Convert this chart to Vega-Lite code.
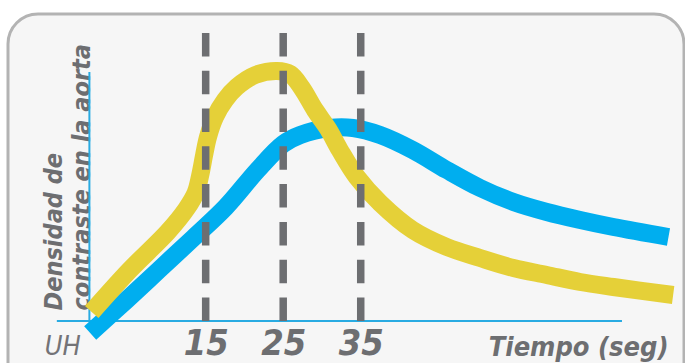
{
  "$schema": "https://vega.github.io/schema/vega-lite/v6.json",
  "autosize": "none",
  "width": 676,
  "height": 389,
  "padding": {"left": 8, "top": 14, "right": 1, "bottom": -40},
  "background": "#ffffff",
  "view": {"fill": "#f6f6f6", "stroke": "#b3b3b3", "strokeWidth": 3, "cornerRadius": 30},
  "datasets": {
    "curvas": [
      {"t": 0.3, "v": 9, "serie": "amarilla"},
      {"t": 5.2, "v": 51, "serie": "amarilla"},
      {"t": 10.1, "v": 89, "serie": "amarilla"},
      {"t": 12.5, "v": 112, "serie": "amarilla"},
      {"t": 13.7, "v": 128, "serie": "amarilla"},
      {"t": 14.3, "v": 146, "serie": "amarilla"},
      {"t": 14.8, "v": 166, "serie": "amarilla"},
      {"t": 15.3, "v": 184, "serie": "amarilla"},
      {"t": 16.2, "v": 204, "serie": "amarilla"},
      {"t": 17.5, "v": 221, "serie": "amarilla"},
      {"t": 19.0, "v": 234, "serie": "amarilla"},
      {"t": 21.4, "v": 246, "serie": "amarilla"},
      {"t": 24.2, "v": 250, "serie": "amarilla"},
      {"t": 25.9, "v": 247, "serie": "amarilla"},
      {"t": 27.4, "v": 233, "serie": "amarilla"},
      {"t": 29.1, "v": 211, "serie": "amarilla"},
      {"t": 30.8, "v": 192, "serie": "amarilla"},
      {"t": 32.3, "v": 171, "serie": "amarilla"},
      {"t": 34.5, "v": 144, "serie": "amarilla"},
      {"t": 37.5, "v": 118, "serie": "amarilla"},
      {"t": 41.7, "v": 91, "serie": "amarilla"},
      {"t": 46.1, "v": 74, "serie": "amarilla"},
      {"t": 50.4, "v": 63, "serie": "amarilla"},
      {"t": 54.7, "v": 53, "serie": "amarilla"},
      {"t": 59.0, "v": 46, "serie": "amarilla"},
      {"t": 63.3, "v": 39, "serie": "amarilla"},
      {"t": 67.6, "v": 34, "serie": "amarilla"},
      {"t": 75.3, "v": 26, "serie": "amarilla"},
      {"t": 0.1, "v": -12, "serie": "azul"},
      {"t": 4.8, "v": 21, "serie": "azul"},
      {"t": 9.1, "v": 52, "serie": "azul"},
      {"t": 13.4, "v": 83, "serie": "azul"},
      {"t": 17.6, "v": 114, "serie": "azul"},
      {"t": 21.7, "v": 151, "serie": "azul"},
      {"t": 25.0, "v": 177, "serie": "azul"},
      {"t": 27.2, "v": 186, "serie": "azul"},
      {"t": 31.0, "v": 193, "serie": "azul"},
      {"t": 34.0, "v": 193, "serie": "azul"},
      {"t": 37.5, "v": 186, "serie": "azul"},
      {"t": 41.7, "v": 171, "serie": "azul"},
      {"t": 46.1, "v": 151, "serie": "azul"},
      {"t": 50.4, "v": 133, "serie": "azul"},
      {"t": 54.7, "v": 119, "serie": "azul"},
      {"t": 59.0, "v": 109, "serie": "azul"},
      {"t": 63.3, "v": 101, "serie": "azul"},
      {"t": 67.6, "v": 94, "serie": "azul"},
      {"t": 74.7, "v": 84, "serie": "azul"}
    ],
    "cortes": [{"t": 15}, {"t": 25}, {"t": 35}]
  },
  "layer": [
    {
      "data": {"values": [{}]},
      "mark": {"type": "rule", "color": "#29abe2", "strokeWidth": 2},
      "encoding": {
        "x": {"datum": -4.2, "type": "quantitative", "scale": {"domain": [-10.5, 76.7], "nice": false, "zero": false},
          "axis": {
            "values": [-3.5, 15, 25, 35],
            "labelExpr": "datum.value < 0 ? 'UH' : datum.label",
            "domain": false, "ticks": false, "tickSize": 0, "grid": false,
            "offset": -82,
            "labelFont": "DejaVu Sans Condensed, sans-serif",
            "labelFontStyle": "italic",
            "labelFontWeight": {"condition": {"test": "datum.value < 0", "value": "normal"}, "value": "bold"},
            "labelFontSize": {"condition": {"test": "datum.value < 0", "value": 27}, "value": 36},
            "labelColor": {"condition": {"test": "datum.value < 0", "value": "#737377"}, "value": "#6d6e71"},
            "labelBaseline": "alphabetic",
            "labelPadding": 33,
            "labelFlush": false, "labelOverlap": false, "labelBound": false,
            "title": "Tiempo (seg)",
            "titleFont": "DejaVu Sans Condensed, sans-serif",
            "titleFontStyle": "italic", "titleFontWeight": "bold", "titleFontSize": 27,
            "titleColor": "#6d6e71",
            "titleAlign": "right", "titleBaseline": "alphabetic", "titleAnchor": "end",
            "titleX": 660, "titleY": 34
          }},
        "x2": {"datum": 68.7},
        "y": {"datum": 0, "type": "quantitative", "scale": {"domain": [-82, 307], "nice": false, "zero": false},
          "axis": {
            "domain": false, "ticks": false, "labels": false, "grid": false,
            "title": ["Densidad de", "contraste en la aorta"],
            "titleFont": "DejaVu Sans Condensed, sans-serif",
            "titleFontStyle": "italic", "titleFontWeight": "bold", "titleFontSize": 25,
            "titleColor": "#6d6e71", "titleLineHeight": 28,
            "titleAngle": 270, "titleAlign": "left", "titleBaseline": "alphabetic",
            "titleX": 53, "titleY": 296
          }}
      }
    },
    {
      "data": {"values": [{}]},
      "mark": {"type": "rule", "color": "#29abe2", "strokeWidth": 2},
      "encoding": {
        "x": {"datum": 0, "type": "quantitative"},
        "y": {"datum": 0, "type": "quantitative"},
        "y2": {"datum": 249}
      }
    },
    {
      "data": {"name": "curvas"},
      "transform": [{"filter": "datum.serie === 'azul'"}],
      "mark": {"type": "line", "color": "#00aeef", "strokeWidth": 18, "strokeCap": "butt", "interpolate": "catmull-rom"},
      "encoding": {
        "x": {"field": "t", "type": "quantitative"},
        "y": {"field": "v", "type": "quantitative"}
      }
    },
    {
      "data": {"name": "curvas"},
      "transform": [{"filter": "datum.serie === 'amarilla'"}],
      "mark": {"type": "line", "color": "#e5d038", "strokeWidth": 18, "strokeCap": "butt", "interpolate": "catmull-rom"},
      "encoding": {
        "x": {"field": "t", "type": "quantitative"},
        "y": {"field": "v", "type": "quantitative"}
      }
    },
    {
      "data": {"name": "cortes"},
      "mark": {"type": "rule", "color": "#6d6e71", "strokeWidth": 7.5, "strokeDash": [23.5, 14.3]},
      "encoding": {
        "x": {"field": "t", "type": "quantitative"},
        "y": {"datum": 0, "type": "quantitative"},
        "y2": {"datum": 288}
      }
    }
  ]
}
